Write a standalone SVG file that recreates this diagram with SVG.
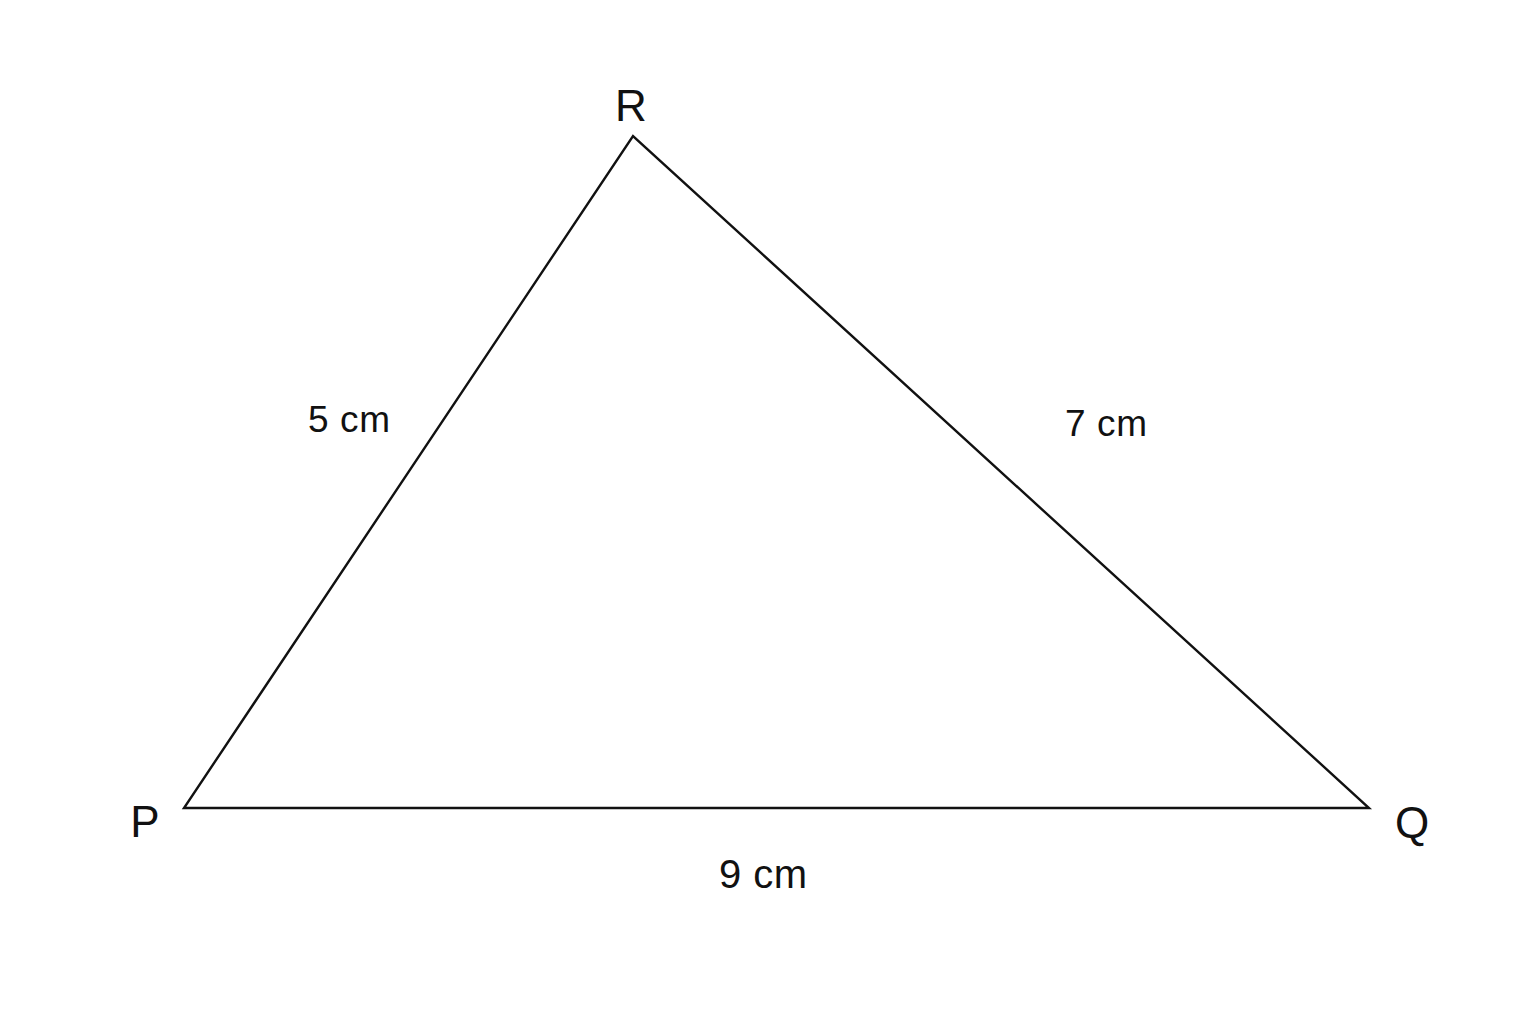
<svg xmlns="http://www.w3.org/2000/svg" width="1536" height="1024" viewBox="0 0 1536 1024">
<style>
.v{font-family:"Liberation Sans",Arial,sans-serif;font-size:44px;fill:#111;text-anchor:middle}
.l{font-family:"Liberation Sans",Arial,sans-serif;font-size:37px;fill:#111;letter-spacing:0.6px}
.e{stroke:#111;stroke-width:2.4;fill:none;stroke-linejoin:miter}
</style>
<rect width="1536" height="1024" fill="#fff"/>
<g id="connectors">
<polygon class="e" points="184,808 1369,808 633,136"/>
</g>
<g id="P"><text class="v" x="145" y="837">P</text></g>
<g id="Q"><text class="v" x="1412" y="838">Q</text></g>
<g id="R"><text class="v" x="631" y="121">R</text></g>
<g id="labels">
<text class="l" x="308" y="432">5 cm</text>
<text class="l" x="1065" y="436">7 cm</text>
<text class="l" x="719" y="888" style="font-size:40px;letter-spacing:0.5px">9 cm</text>
</g>
</svg>
